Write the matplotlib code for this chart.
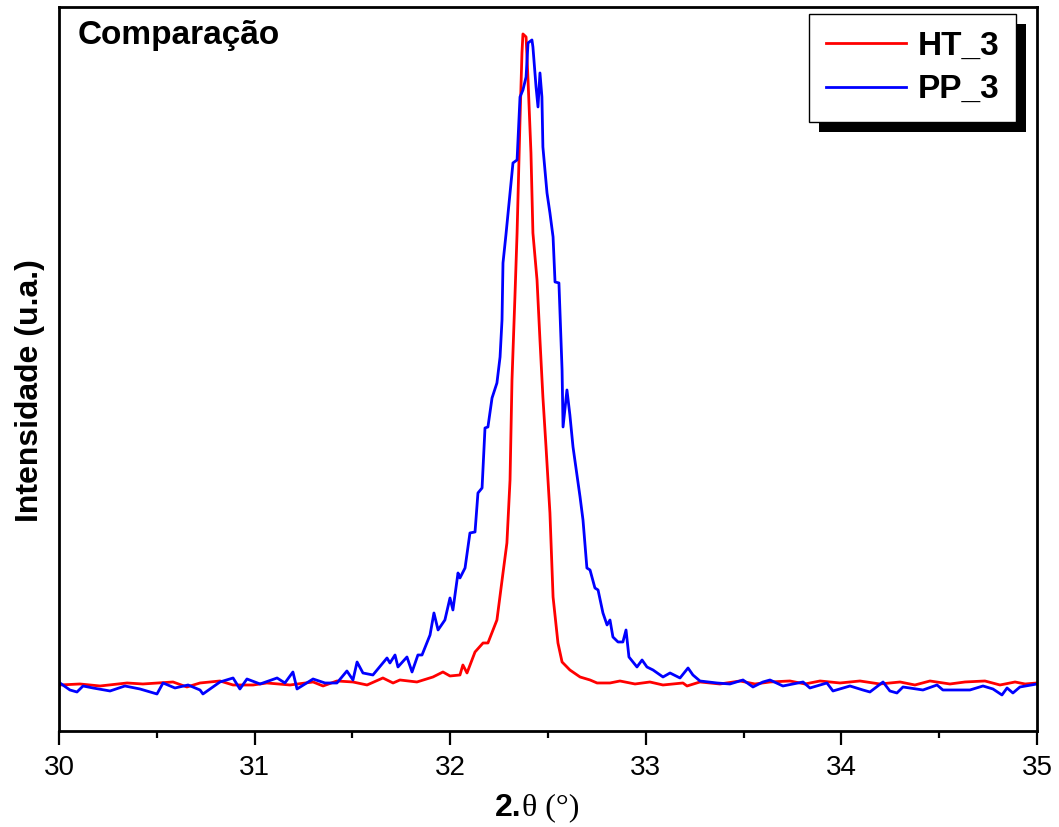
import matplotlib
matplotlib.use("Agg")
import matplotlib.pyplot as plt
from matplotlib.patches import Rectangle
from matplotlib.ticker import MultipleLocator, NullLocator

# HT_3 (red) - 2theta (deg) and intensity (a.u.)
ht_x = [30.005, 30.107, 30.210, 30.348, 30.429, 30.583, 30.654, 30.721, 30.823, 30.890,
        30.992, 31.063, 31.181, 31.299, 31.350, 31.421, 31.503, 31.575, 31.656, 31.708,
        31.743, 31.830, 31.912, 31.963, 31.999, 32.050, 32.065, 32.086, 32.127, 32.168,
        32.193, 32.239, 32.270, 32.290, 32.306, 32.316, 32.331, 32.342, 32.357, 32.367,
        32.372, 32.388, 32.398, 32.413, 32.423, 32.444, 32.459, 32.474, 32.490, 32.510,
        32.526, 32.551, 32.572, 32.612, 32.664, 32.715, 32.751, 32.817, 32.868, 32.945,
        33.021, 33.088, 33.190, 33.211, 33.277, 33.379, 33.482, 33.558, 33.635, 33.737,
        33.814, 33.891, 33.993, 34.095, 34.197, 34.300, 34.376, 34.453, 34.555, 34.632,
        34.734, 34.811, 34.888, 34.939, 35.000]
ht_y = [46, 47, 45, 48, 47, 49, 44, 48, 50, 46,
        46, 48, 46, 49, 45, 50, 49, 46, 53, 48,
        51, 49, 54, 59, 55, 56, 66, 58, 79, 88,
        88, 111, 158, 188, 251, 351, 434, 498, 611, 678,
        697, 694, 651, 578, 498, 451, 391, 334, 284, 218,
        134, 88, 69, 61, 54, 51, 48, 48, 50, 47,
        49, 46, 48, 45, 49, 47, 50, 47, 49, 50,
        47, 50, 48, 50, 47, 49, 46, 50, 47, 49,
        50, 46, 49, 47, 48]

# PP_3 (blue)
pp_x = [30.005, 30.056, 30.092, 30.123, 30.174, 30.261, 30.337, 30.414, 30.501, 30.532,
        30.593, 30.660, 30.721, 30.736, 30.823, 30.890, 30.925, 30.961, 31.028, 31.115,
        31.155, 31.196, 31.217, 31.299, 31.360, 31.421, 31.472, 31.503, 31.524, 31.554,
        31.605, 31.677, 31.692, 31.718, 31.733, 31.779, 31.805, 31.835, 31.856, 31.897,
        31.917, 31.938, 31.973, 31.999, 32.014, 32.040, 32.050, 32.076, 32.101, 32.127,
        32.142, 32.163, 32.178, 32.193, 32.214, 32.239, 32.255, 32.265, 32.270, 32.285,
        32.306, 32.321, 32.342, 32.357, 32.372, 32.388, 32.398, 32.418, 32.423, 32.439,
        32.449, 32.459, 32.469, 32.474, 32.495, 32.510, 32.526, 32.536, 32.556, 32.572,
        32.577, 32.597, 32.612, 32.628, 32.664, 32.679, 32.699, 32.715, 32.740, 32.756,
        32.781, 32.802, 32.817, 32.832, 32.858, 32.883, 32.899, 32.914, 32.955, 32.981,
        33.006, 33.037, 33.088, 33.124, 33.175, 33.216, 33.241, 33.277, 33.364, 33.430,
        33.497, 33.548, 33.599, 33.635, 33.701, 33.804, 33.839, 33.926, 33.957, 34.044,
        34.110, 34.146, 34.213, 34.248, 34.284, 34.315, 34.417, 34.489, 34.519, 34.657,
        34.724, 34.775, 34.821, 34.847, 34.877, 34.913, 35.000]
pp_y = [48, 41, 39, 45, 43, 40, 45, 42, 37, 48,
        43, 46, 41, 37, 49, 53, 42, 52, 47, 53,
        48, 59, 42, 52, 48, 48, 60, 51, 69, 58,
        56, 73, 68, 76, 64, 74, 59, 76, 76, 96,
        118, 101, 111, 133, 121, 158, 153, 163, 198, 199,
        238, 243, 303, 304, 333, 348, 374, 411, 468, 496,
        538, 568, 571, 634, 641, 654, 688, 691, 684, 644,
        624, 658, 634, 584, 538, 518, 494, 449, 448, 361,
        304, 341, 316, 284, 234, 211, 163, 161, 143, 141,
        118, 106, 111, 94, 89, 89, 101, 74, 64, 71,
        64, 61, 54, 58, 53, 63, 56, 50, 48, 47,
        51, 44, 49, 51, 45, 49, 43, 48, 40, 45,
        41, 39, 49, 40, 38, 44, 41, 46, 41, 41,
        45, 42, 36, 43, 38, 44, 47]

labels = ['HT_3', 'PP_3']
colors = ['#ff0000', '#0000ff']

SANS = 'Liberation Sans'
SERIF = 'Liberation Serif'

fig = plt.figure(figsize=(10.59, 8.27), dpi=100)
ax = fig.add_axes([0.0557, 0.1161, 0.9235, 0.8755])

ax.plot(ht_x, ht_y, color=colors[0], lw=2.0, label=labels[0])
ax.plot(pp_x, pp_y, color=colors[1], lw=2.0, label=labels[1])

ax.set_xlim(30, 35)
ax.set_ylim(0, 724)

for s in ax.spines.values():
    s.set_linewidth(2.0)

ax.xaxis.set_major_locator(MultipleLocator(1))
ax.xaxis.set_minor_locator(MultipleLocator(0.5))
ax.yaxis.set_major_locator(NullLocator())
ax.yaxis.set_minor_locator(NullLocator())
ax.tick_params(axis='x', which='major', direction='out', length=10, width=1.6,
               pad=7, labelsize=20, top=False)
ax.tick_params(axis='x', which='minor', direction='out', length=5, width=1.6, top=False)
for lab in ax.get_xticklabels():
    lab.set_fontfamily(SANS)

# axis labels (mixed fonts like the original)
fig.text(0.492, 0.023, '2.', ha='right', va='center', fontsize=23,
         fontweight='bold', family=SANS)
fig.text(0.493, 0.023, 'θ (°)', ha='left', va='center', fontsize=23, family=SERIF)
fig.text(0.028, 0.528, 'Intensidade (u.a.)', rotation=90, ha='center', va='center',
         fontsize=23, fontweight='bold', family=SANS)

ax.text(0.0194, 0.961, 'Comparação', transform=ax.transAxes, ha='left', va='center',
        fontsize=24, fontweight='bold', family=SANS)

leg = ax.legend(loc='upper right', bbox_to_anchor=(0.9785, 0.9903), borderaxespad=0,
                fancybox=False, edgecolor='black', framealpha=1, handlelength=2.4,
                handletextpad=0.35, labelspacing=0.38, borderpad=0.5,
                prop={'family': SANS, 'weight': 'bold', 'size': 24})
leg.get_frame().set_linewidth(1.0)
leg.set_zorder(6)

# solid black drop shadow behind the legend box
fig.canvas.draw()
bb = leg.get_window_extent().transformed(ax.transAxes.inverted())
dx = 10 / (ax.bbox.width)
dy = 10 / (ax.bbox.height)
ax.add_patch(Rectangle((bb.x0 + dx, bb.y0 - dy), bb.width, bb.height,
                       transform=ax.transAxes, facecolor='black', edgecolor='none',
                       zorder=5.5))

fig.savefig('out.png', dpi=100)
